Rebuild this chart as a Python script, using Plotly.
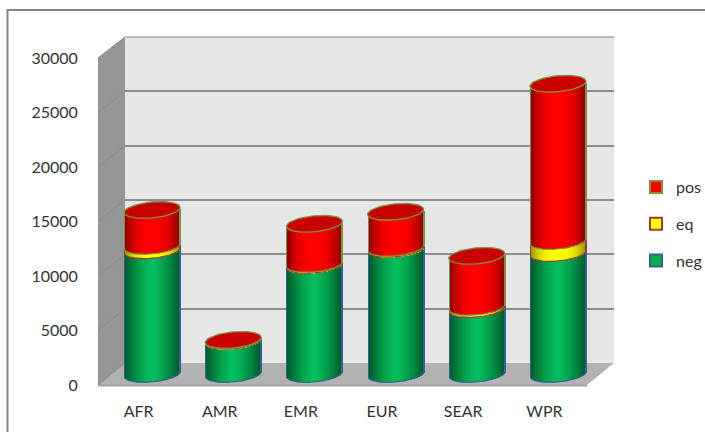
import math
import plotly.graph_objects as go

categories = ["AFR", "AMR", "EMR", "EUR", "SEAR", "WPR"]
neg = [11350, 3030, 10000, 11480, 5960, 11100]
eq = [400, 60, 100, 100, 200, 1100]
pos = [3300, 40, 3680, 3300, 4680, 14430]
y_ticks = [0, 5000, 10000, 15000, 20000, 25000, 30000]

W, H = 705, 432
FONT = "Lato"
TXT = "#333333"
# pixel geometry of the pseudo-3D box
FX0, FX1, FY0, FY1 = 98, 585, 385, 58      # front plane
BX0, BX1, BY0, BY1 = 125, 613, 363, 37     # back plane
MX0, MX1, MY0, MY1 = 111.5, 598.5, 374, 47 # plane through the cylinders
A, B, TILT = 28.0, 8.0, 2.5                # cap half width, half height, skew

PAD_BOT, PAD_TOP = 20, 20
UNIT = 30000 / (MY0 - MY1)                 # value per pixel
XU = 6 / (MX1 - MX0)                       # category unit per pixel


def dom_x(a, b):
    return [a / W, b / W]


def dom_y(bot, top):
    return [1 - bot / H, 1 - top / H]


def shade(rgb, u, k, p):
    f = 1 - k * u ** p
    return "rgb(%d,%d,%d)" % tuple(round(c * f) for c in rgb)


def arc(u):
    return B * math.sqrt(max(0.0, 1 - u * u))


series = [
    ("neg", neg, (4, 190, 92), 0.55, 1.4, "#2f6490", "#00b050"),
    ("eq", eq, (255, 255, 0), 0.45, 2.5, "#9c3b32", "#ffff00"),
    ("pos", pos, (255, 0, 0), 0.5, 2.5, "#7f9045", "#ff0000"),
]

fig = go.Figure()

# Helper traces so that the grid and label axes exist
fig.add_trace(go.Scatter(x=categories, y=[None] * 6, xaxis="x", yaxis="y",
                         showlegend=False, hoverinfo="skip"))
fig.add_trace(go.Scatter(x=categories, y=[None] * 6, xaxis="x2", yaxis="y2",
                         showlegend=False, hoverinfo="skip"))

cum = [0] * 6
steps = [s + 0.5 for s in range(-28, 28)]
arcs = {}
for name, vals, rgb, k, p, edge, flat in series:
    xs, bases, ys, cols = [], [], [], []
    ax, ay = [], []
    for i, v in enumerate(vals):
        for s in steps:
            u = s / A
            off = (-arc(u) + TILT * u) * UNIT
            xs.append(i + s * XU)
            bases.append(cum[i] + off)
            ys.append(v)
            cols.append(edge if abs(s) > 27 else shade(rgb, abs(u), k, p))
            ax.append(i + s * XU)
            ay.append(cum[i] + off)
        ax.append(None)
        ay.append(None)
    fig.add_trace(go.Bar(x=xs, y=ys, base=bases, width=XU * 1.02, xaxis="x3", yaxis="y3",
                         marker=dict(color=cols, line=dict(width=0)),
                         showlegend=False, hoverinfo="skip"))
    arcs[name] = (ax, ay, edge)
    cum = [c + v for c, v in zip(cum, vals)]

# Rim lines at the bottom of every segment
for name, *_ in series:
    ax, ay, edge = arcs[name]
    fig.add_trace(go.Scatter(x=ax, y=ay, mode="lines", line=dict(color=edge, width=1.2),
                             xaxis="x3", yaxis="y3", showlegend=False, hoverinfo="skip"))

# Top caps
cx, cy = [], []
for i, top in enumerate(cum):
    for d in range(0, 73):
        t = math.radians(d * 5)
        u = math.cos(t)
        cx.append(i + A * u * XU)
        cy.append(top + (B * math.sin(t) + TILT * u) * UNIT)
    cx.append(None)
    cy.append(None)
fig.add_trace(go.Scatter(x=cx, y=cy, mode="lines", fill="toself", fillcolor="#c80000",
                         line=dict(color="#7f9045", width=1.3),
                         xaxis="x3", yaxis="y3", showlegend=False, hoverinfo="skip"))

# Legend entries
for name, _, _, _, _, edge, flat in reversed(series):
    fig.add_trace(go.Bar(x=[None], y=[None], name=name, legendgroup=name,
                         marker=dict(color=flat, line=dict(color=edge, width=2)),
                         xaxis="x3", yaxis="y3", hoverinfo="skip"))


def poly(pts):
    return "M" + "L".join("%.4f,%.4f" % (x / W, 1 - y / H) for x, y in pts) + "Z"


shapes = [
    dict(type="path", xref="paper", yref="paper", layer="below", line=dict(width=0), fillcolor="#e6e6e6",
         path=poly([(BX0, BY1), (BX1 + 1, BY1), (BX1 + 1, BY0), (BX0, BY0)])),
    dict(type="path", xref="paper", yref="paper", layer="below", line=dict(width=0), fillcolor="#969696",
         path=poly([(FX0, FY1), (BX0, BY1), (BX0, BY0), (FX0, FY0)])),
    dict(type="path", xref="paper", yref="paper", layer="below", line=dict(width=0), fillcolor="#b2b2b2",
         path=poly([(FX0, FY0), (BX0, BY0), (BX1 + 1, BY0), (FX1 + 2, FY0)])),
    dict(type="line", xref="paper", yref="paper", layer="below", line=dict(color="#a3a3a3", width=2),
         x0=FX0 / W, x1=(FX1 + 2) / W, y0=1 - (FY0 + 0.5) / H, y1=1 - (FY0 + 0.5) / H),
    dict(type="line", xref="paper", yref="paper", layer="below", line=dict(color="#a6a6a6", width=1.5),
         x0=BX0 / W, x1=(BX1 + 1) / W, y0=1 - BY1 / H, y1=1 - BY1 / H),
    dict(type="rect", xref="paper", yref="paper", layer="below", line=dict(color="#868686", width=2),
         fillcolor="rgba(0,0,0,0)", x0=7.5 / W, x1=1.05, y0=-0.05, y1=1 - 10 / H),
]
for t in y_ticks:
    f = t / 30000
    fy = FY0 + (FY1 - FY0) * f
    by = BY0 + (BY1 - BY0) * f
    shapes.append(dict(type="line", xref="paper", yref="paper", layer="below",
                       line=dict(color="#8a8a8a", width=1),
                       x0=FX0 / W, x1=BX0 / W, y0=1 - fy / H, y1=1 - by / H))

font = dict(family=FONT, size=16, color=TXT)
fig.update_layout(
    width=W, height=H, margin=dict(l=0, r=0, t=0, b=0, autoexpand=False),
    paper_bgcolor="white", plot_bgcolor="rgba(0,0,0,0)", barmode="overlay", bargap=0,
    font=font, shapes=shapes,
    # back wall: grid only
    xaxis=dict(domain=dom_x(BX0, BX1 + 1), anchor="y", type="category", categoryorder="array",
               categoryarray=categories, range=[-0.5, 5.5], showticklabels=False, ticks="",
               showgrid=False, zeroline=False, showline=False),
    yaxis=dict(domain=dom_y(BY0, BY1), anchor="x", range=[0, 30000], tickvals=y_ticks,
               showticklabels=False, ticks="", showgrid=True, gridcolor="#8c8c8c", gridwidth=1.5,
               zeroline=False, showline=False),
    # front plane: labels
    xaxis2=dict(domain=dom_x(FX0, FX1), anchor="y2", type="category", categoryorder="array",
                categoryarray=categories, range=[-0.5, 5.5], showgrid=False, zeroline=False, showline=False,
                ticks="outside", ticklen=12, tickcolor="rgba(0,0,0,0)", tickfont=font),
    yaxis2=dict(domain=dom_y(FY0, FY1), anchor="x2", range=[0, 30000], tickvals=y_ticks,
                ticktext=[str(t) for t in y_ticks], showgrid=False, zeroline=False, showline=False,
                ticks="outside", ticklen=16, tickcolor="rgba(0,0,0,0)", tickfont=font),
    # cylinders
    xaxis3=dict(domain=dom_x(MX0, MX1), anchor="y3", range=[-0.5, 5.5], visible=False),
    yaxis3=dict(domain=dom_y(MY0 + PAD_BOT, MY1 - PAD_TOP), anchor="x3",
                range=[-PAD_BOT * UNIT, 30000 + PAD_TOP * UNIT], visible=False),
    legend=dict(x=636 / W, xanchor="left", y=1 - 224 / H, yanchor="middle", traceorder="grouped",
                tracegroupgap=13, bgcolor="rgba(0,0,0,0)", font=dict(family=FONT, size=16, color=TXT)),
    showlegend=True,
)

fig.write_html("out.html", config=dict(displayModeBar=False),
               post_script="document.body.style.margin='0';")
